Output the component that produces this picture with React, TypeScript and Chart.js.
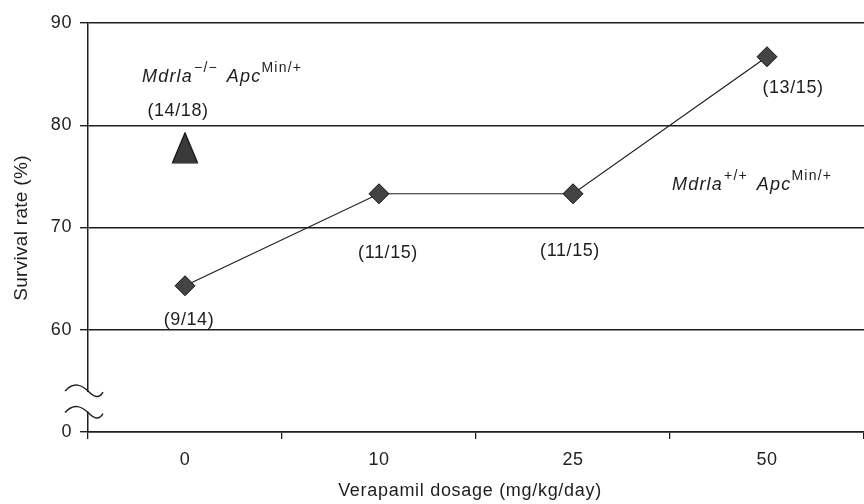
import React, { useEffect, useRef } from 'react';
import { Chart, registerables } from 'chart.js';

Chart.register(...registerables);

const categories = ['0', '10', '25', '50'];
const survivalRate = [64.3, 73.3, 73.3, 86.7];
const knockoutRate = [77.8, null, null, null];
const survivalCounts = ['(9/14)', '(11/15)', '(11/15)', '(13/15)'];
const knockoutCounts = ['(14/18)', '', '', ''];
const yTickValues = [50, 60, 70, 80, 90];
const yTickLabels = ['0', '60', '70', '80', '90'];

const FONT = '"Liberation Sans", Arial, Helvetica, sans-serif';
const INK = '#1e1e1e';

function makeTriangle(): HTMLCanvasElement {
  const c = document.createElement('canvas');
  c.width = 28;
  c.height = 32;
  const g = c.getContext('2d')!;
  g.beginPath();
  g.moveTo(14, 1);
  g.lineTo(26.5, 31);
  g.lineTo(1.5, 31);
  g.closePath();
  g.fillStyle = '#3a3a3a';
  g.fill();
  g.lineWidth = 1.2;
  g.strokeStyle = '#111';
  g.stroke();
  return c;
}

type Run = { t: string; italic?: boolean; sup?: boolean; gap?: number };

function drawRuns(ctx: CanvasRenderingContext2D, runs: Run[], x: number, y: number, size: number) {
  let cx = x;
  ctx.textAlign = 'left';
  ctx.textBaseline = 'alphabetic';
  for (const r of runs) {
    cx += r.gap || 0;
    const s = r.sup ? 14 : size;
    ctx.font = `${r.italic ? 'italic ' : ''}${s}px ${FONT}`;
    ctx.fillText(r.t, cx, r.sup ? y - 10 : y);
    cx += ctx.measureText(r.t).width;
  }
}

const spacingPlugin = {
  id: 'spacing',
  beforeDraw(chart: any) {
    (chart.ctx as any).letterSpacing = '0.6px';
  },
};

const annotationPlugin = {
  id: 'annotations',
  afterDraw(chart: any) {
    const ctx: CanvasRenderingContext2D = chart.ctx;
    const area = chart.chartArea;
    const yScale = chart.scales.y;
    ctx.save();
    (ctx as any).letterSpacing = '0.6px';
    ctx.fillStyle = INK;
    ctx.textAlign = 'center';
    ctx.textBaseline = 'middle';
    ctx.font = `18px ${FONT}`;
    const offs = [
      [4, 34],
      [9, 59],
      [-3, 57],
      [26, 31],
    ];
    const m0 = chart.getDatasetMeta(0).data;
    m0.forEach((p: any, i: number) => {
      ctx.fillText(survivalCounts[i], p.x + offs[i][0], p.y + offs[i][1]);
    });
    const m1 = chart.getDatasetMeta(1).data;
    m1.forEach((p: any, i: number) => {
      if (knockoutCounts[i] && p && !p.skip) ctx.fillText(knockoutCounts[i], p.x - 7, p.y - 37);
    });
    (ctx as any).letterSpacing = '1.2px';
    drawRuns(ctx, [
      { t: 'Mdrla', italic: true },
      { t: '\u2212/\u2212', sup: true, gap: 1 },
      { t: 'Apc', italic: true, gap: 9 },
      { t: 'Min/+', sup: true },
    ], area.left + 54, yScale.getPixelForValue(84.23), 18);
    drawRuns(ctx, [
      { t: 'Mdrla', italic: true },
      { t: '+/+', sup: true, gap: 1 },
      { t: 'Apc', italic: true, gap: 9 },
      { t: 'Min/+', sup: true },
    ], area.left + 584, yScale.getPixelForValue(73.67), 18);

    (ctx as any).letterSpacing = '0.7px';
    ctx.font = `18px ${FONT}`;
    ctx.textAlign = 'center';
    ctx.textBaseline = 'middle';
    ctx.fillText('Verapamil dosage (mg/kg/day)', 470, 491);
    ctx.save();
    (ctx as any).letterSpacing = '0.3px';
    ctx.font = `19px ${FONT}`;
    ctx.translate(22, 228);
    ctx.rotate(-Math.PI / 2);
    ctx.fillText('Survival rate (%)', 0, 0);
    ctx.restore();

    const x0 = area.left;
    const yA = yScale.getPixelForValue(54.0);
    const yB = yScale.getPixelForValue(51.9);
    ctx.fillStyle = '#fff';
    ctx.fillRect(x0 - 2, yA + 1, 4, yB - yA - 2);
    ctx.strokeStyle = INK;
    ctx.lineWidth = 1.4;
    for (const yy of [yA, yB]) {
      ctx.beginPath();
      ctx.moveTo(x0 - 23, yy);
      ctx.bezierCurveTo(x0 - 14, yy - 10, x0 - 6, yy - 6, x0, yy);
      ctx.bezierCurveTo(x0 + 6, yy + 6, x0 + 11, yy + 8, x0 + 15, yy + 1);
      ctx.stroke();
    }
    ctx.restore();
  },
};

export default function App() {
  const ref = useRef<HTMLCanvasElement | null>(null);
  useEffect(() => {
    document.body.style.margin = '0';
    const tri = makeTriangle();
    const chart = new Chart(ref.current!, {
      type: 'line',
      data: {
        labels: categories,
        datasets: [
          {
            data: survivalRate,
            borderColor: INK,
            borderWidth: 1.2,
            pointStyle: 'rectRot',
            pointRadius: 10,
            pointBackgroundColor: '#444',
            pointBorderColor: '#111',
            pointBorderWidth: 1,
            clip: false as any,
          },
          {
            data: knockoutRate as any,
            showLine: false,
            pointStyle: tri as any,
            pointRadius: 15,
            clip: false as any,
          },
        ],
      },
      options: {
        responsive: false,
        animation: false,
        layout: { autoPadding: false, padding: { top: 23, right: 0, left: 0, bottom: 0 } },
        plugins: { legend: { display: false }, tooltip: { enabled: false } },
        scales: {
          x: {
            type: 'category',
            offset: true,
            grid: { offset: true, drawOnChartArea: false, drawTicks: true, tickLength: 7, color: INK, lineWidth: 1.3 },
            border: { display: true, color: INK, width: 1.5 },
            ticks: { color: '#222', font: { family: FONT, size: 18 }, padding: 10 },
            afterFit: (s: any) => { s.height = 72; },
          },
          y: {
            min: 50,
            max: 90,
            afterBuildTicks: (s: any) => { s.ticks = yTickValues.map((v) => ({ value: v })); },
            ticks: {
              color: '#222',
              font: { family: FONT, size: 18 },
              padding: 8,
              callback: (v: any) => {
                const i = yTickValues.indexOf(Number(v));
                return i >= 0 ? yTickLabels[i] : '';
              },
            },
            grid: { color: INK, lineWidth: 1.4, tickLength: 8 },
            border: { display: true, color: INK, width: 1.5 },
            afterFit: (s: any) => { s.width = 88; },
          },
        },
      },
      plugins: [spacingPlugin, annotationPlugin],
    });
    return () => chart.destroy();
  }, []);
  return <canvas ref={ref} width={864} height={504} style={{ display: 'block', width: 864, height: 504 }} />;
}
